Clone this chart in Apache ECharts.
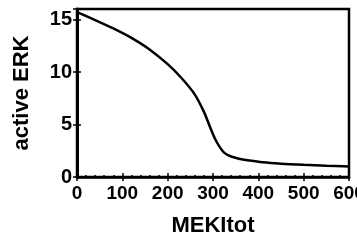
<!DOCTYPE html>
<html>
<head>
    <meta charset="UTF-8">
    <script src="https://cdn.jsdelivr.net/npm/echarts@6/dist/echarts.min.js"></script>
</head>
<body style="margin:0;background:#fff;">
    <div id="main" style="width:357px;height:242px"></div>
    <script type="text/javascript">
        // curve
        var mekTot = [0, 40, 80, 120, 160, 200, 230, 260, 280, 295, 305, 315, 325, 340, 360, 380, 410, 450, 500, 550, 600];
        var erkActive = [15.7, 14.95, 14.15, 13.25, 12.15, 10.75, 9.45, 7.85, 6.2, 4.6, 3.6, 2.85, 2.3, 1.95, 1.72, 1.57, 1.4, 1.27, 1.16, 1.07, 1.0];
        var yTicks = [0, 5, 10, 15];

        var points = [];
        for (var i = 0; i < mekTot.length; i++) {
            points.push([mekTot[i], erkActive[i]]);
        }

        var font = 'Liberation Sans, Arial, sans-serif';
        var myChart = echarts.init(document.getElementById('main'));

        var option = {
            animation: false,
            grid: {
                left: 77, right: 8, top: 9, bottom: 65,
                outerBoundsMode: 'none',
                show: true, borderColor: '#000', borderWidth: 2.5, backgroundColor: '#fff'
            },
            xAxis: [
                {
                    type: 'value', min: 0, max: 600, interval: 100,
                    name: 'MEKItot', nameLocation: 'middle', nameGap: 38,
                    nameTextStyle: { fontFamily: font, fontWeight: 'bold', fontSize: 22, color: '#000' },
                    axisLine: { show: true, lineStyle: { color: '#000', width: 2.5 } },
                    axisTick: { show: true, inside: true, length: 4, lineStyle: { color: '#000', width: 1.5 } },
                    minorTick: { show: true, splitNumber: 5, length: 2, lineStyle: { color: '#000', width: 1.5 } },
                    axisLabel: { fontFamily: font, fontWeight: 'bold', fontSize: 19, color: '#000', margin: 7 },
                    splitLine: { show: false }
                },
                {
                    type: 'value', position: 'top', min: 0, max: 600, interval: 100,
                    axisLine: { show: false },
                    axisTick: { show: true, inside: true, length: 4, lineStyle: { color: '#000', width: 1.5 } },
                    axisLabel: { show: false },
                    splitLine: { show: false }
                }
            ],
            yAxis: [
                {
                    type: 'value', min: 0, max: 16, interval: 5,
                    name: 'active ERK', nameLocation: 'middle', nameGap: 44,
                    nameTextStyle: { fontFamily: font, fontWeight: 'bold', fontSize: 22, color: '#000' },
                    axisLine: { show: true, lineStyle: { color: '#000', width: 3 } },
                    axisTick: { show: true, inside: true, length: 4, lineStyle: { color: '#000', width: 1.5 } },
                    axisLabel: {
                        fontFamily: font, fontWeight: 'bold', fontSize: 20, color: '#000', margin: 5,
                        formatter: function (v) { return yTicks.indexOf(v) >= 0 ? v : ''; }
                    },
                    splitLine: { show: false }
                },
                {
                    type: 'value', position: 'right', min: 0, max: 16, interval: 5,
                    axisLine: { show: false },
                    axisTick: { show: true, inside: true, length: 4, lineStyle: { color: '#000', width: 1.5 } },
                    axisLabel: { show: false },
                    splitLine: { show: false }
                }
            ],
            series: [
                {
                    type: 'line',
                    data: points,
                    smooth: 0.3,
                    symbol: 'none',
                    lineStyle: { color: '#000', width: 2.5 }
                }
            ]
        };

        myChart.setOption(option);
    </script>
</body>
</html>
